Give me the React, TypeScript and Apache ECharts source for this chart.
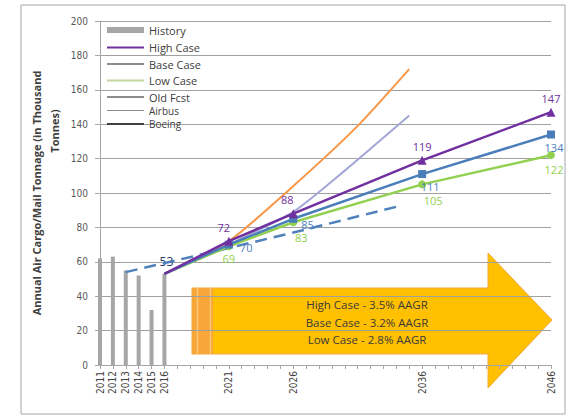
import React, { useEffect, useRef } from "react";
import * as echarts from "echarts";

const years = [
  "2011", "2012", "2013", "2014", "2015", "2016", "2017", "2018", "2019", "2020",
  "2021", "2022", "2023", "2024", "2025", "2026", "2027", "2028", "2029", "2030",
  "2031", "2032", "2033", "2034", "2035", "2036", "2037", "2038", "2039", "2040",
  "2041", "2042", "2043", "2044", "2045", "2046",
];
const labelledYears = ["2011", "2012", "2013", "2014", "2015", "2016", "2021", "2026", "2036", "2046"];

const historyYears = ["2011", "2012", "2013", "2014", "2015", "2016"];
const historyValues = [62, 63, 55, 52, 32, 53];

const forecastYears = ["2016", "2021", "2026", "2036", "2046"];
const highCase = [53, 72, 88, 119, 147];
const baseCase = [53, 70, 85, 111, 134];
const lowCase = [53, 69, 83, 105, 122];

const oldFcstYears = ["2016", "2021", "2026", "2030", "2035"];
const oldFcst = [53, 70, 89, 113, 145];

const airbusYears = ["2016", "2021", "2026", "2031", "2035"];
const airbus = [53, 72, 104, 139, 172];

const boeingYears = ["2013", "2021", "2026", "2034"];
const boeing = [54, 68, 77, 92];

const growthNotes = ["High Case - 3.5% AAGR", "Base Case - 3.2% AAGR", "Low Case - 2.8% AAGR"];

const FONT = "'Open Sans', 'Noto Sans', sans-serif";
const NARROW = "'Liberation Sans Narrow', 'DejaVu Sans Condensed', 'Open Sans', sans-serif";

function spread(ys: string[], vs: number[]): (number | null)[] {
  const out: (number | null)[] = years.map(() => null);
  ys.forEach((y, i) => {
    out[years.indexOf(y)] = vs[i];
  });
  return out;
}

function forecastData(vs: number[], labelCfgs: any[]) {
  const out: any[] = years.map(() => null);
  forecastYears.forEach((y, i) => {
    const item: any = { value: vs[i] };
    if (i === 0) {
      item.symbol = "none";
      item.label = { show: false };
    } else if (labelCfgs[i]) {
      item.label = labelCfgs[i];
    }
    out[years.indexOf(y)] = item;
  });
  return out;
}

export default function App() {
  const ref = useRef<HTMLDivElement>(null);

  useEffect(() => {
    if (!ref.current) return;
    const chart = echarts.init(ref.current, undefined, { renderer: "svg" });

    const histData: any[] = spread(historyYears, historyValues).map((v, i) =>
      years[i] === "2016"
        ? {
            value: v,
            label: {
              show: true,
              position: "top",
              distance: 6,
              offset: [2, 0],
              color: "#1F3864",
              fontSize: 12,
              fontFamily: FONT,
              formatter: "{c}",
            },
          }
        : v
    );

    const purple = "#7030A0";
    const blue = "#4A7EBB";
    const green = "#92D050";

    const highLabels = [
      null,
      { position: "top", offset: [-5, 0] },
      { position: "top", offset: [-6, 0] },
      { position: "top" },
      { position: "top" },
    ];
    const baseLabels = [
      null,
      { position: "right", offset: [4, 3] },
      { position: "right", offset: [1, 6] },
      { position: "bottom", offset: [8, 0] },
      { position: "bottom", offset: [3, 0] },
    ];
    const lowLabels = [
      null,
      { position: "bottom", offset: [0, 0] },
      { position: "bottom", offset: [8, 3] },
      { position: "bottom", offset: [11, 4] },
      { position: "bottom", offset: [3, 2] },
    ];

    const legendText = { fontSize: 11, lineHeight: 13, color: "#404040", fontFamily: FONT };

    chart.setOption({
      animation: false,
      backgroundColor: "#ffffff",
      textStyle: { fontFamily: FONT },
      grid: { left: 100, right: 17, top: 21, height: 344, containLabel: false },
      legend: [
        {
          data: [{ name: "History", icon: "rect", itemStyle: { color: "#A6A6A6" } }],
          orient: "vertical",
          left: 107,
          top: 23.5,
          padding: 0,
          itemWidth: 37,
          itemHeight: 6,
          selectedMode: false,
          textStyle: legendText,
        },
        {
          data: [
            { name: "High Case", icon: "rect", itemStyle: { color: purple } },
            { name: "Base Case", icon: "rect", itemStyle: { color: "#8C8C8C" } },
            { name: "Low Case", icon: "rect", itemStyle: { color: "#C3D69B" } },
            { name: "Old Fcst", icon: "rect", itemStyle: { color: "#8C8C8C" } },
          ],
          orient: "vertical",
          left: 107,
          top: 41,
          padding: 0,
          itemWidth: 37,
          itemHeight: 2,
          itemGap: 3.5,
          selectedMode: false,
          textStyle: legendText,
        },
        {
          data: [{ name: "Airbus", icon: "rect", itemStyle: { color: "#8C8C8C" } }],
          orient: "vertical",
          left: 107,
          top: 105,
          padding: 0,
          itemWidth: 37,
          itemHeight: 1,
          selectedMode: false,
          textStyle: { ...legendText, fontSize: 10, lineHeight: 11 },
        },
        {
          data: [{ name: "Boeing", icon: "rect", itemStyle: { color: "#404040" } }],
          orient: "vertical",
          left: 107,
          top: 118,
          padding: 0,
          itemWidth: 37,
          itemHeight: 2,
          selectedMode: false,
          textStyle: { ...legendText, fontSize: 10, lineHeight: 12 },
        },
      ],
      xAxis: {
        type: "category",
        data: years,
        boundaryGap: false,
        axisLine: { lineStyle: { color: "#A6A6A6" } },
        axisTick: { interval: 0, length: 4, lineStyle: { color: "#A6A6A6" } },
        axisLabel: {
          interval: (_i: number, v: string) => labelledYears.includes(v),
          rotate: 90,
          fontSize: 10,
          color: "#404040",
          margin: 6,
          fontFamily: NARROW,
        },
        splitLine: { show: false },
      },
      yAxis: {
        type: "value",
        min: 0,
        max: 200,
        interval: 20,
        name: "Annual Air Cargo/Mail Tonnage (in Thousand",
        nameLocation: "middle",
        nameGap: 58,
        nameTextStyle: { fontSize: 11, fontWeight: "bold", color: "#404040", fontFamily: FONT },
        axisLine: { show: true, lineStyle: { color: "#A6A6A6" } },
        axisTick: { show: true, length: 5, lineStyle: { color: "#A6A6A6" } },
        axisLabel: { fontSize: 10, color: "#595959", margin: 12, fontFamily: NARROW },
        splitLine: { lineStyle: { color: "#A0A0A0", width: 1 } },
      },
      series: [
        {
          name: "History",
          type: "bar",
          data: histData,
          barWidth: 4,
          itemStyle: { color: "#A6A6A6" },
          z: 2,
        },
        {
          name: "Airbus",
          type: "line",
          data: spread(airbusYears, airbus),
          connectNulls: true,
          symbol: "none",
          smooth: 0.2,
          lineStyle: { color: "#F79646", width: 2 },
          itemStyle: { color: "#F79646" },
          z: 3,
        },
        {
          name: "Old Fcst",
          type: "line",
          data: spread(oldFcstYears, oldFcst),
          connectNulls: true,
          symbol: "none",
          smooth: 0.2,
          lineStyle: { color: "#A3A6D6", width: 2 },
          itemStyle: { color: "#A3A6D6" },
          z: 3,
        },
        {
          name: "Boeing",
          type: "line",
          data: spread(boeingYears, boeing),
          connectNulls: true,
          symbol: "none",
          lineStyle: { color: "#4F81BD", width: 2.5, type: [12, 7] },
          itemStyle: { color: "#4F81BD" },
          z: 3,
        },
        {
          name: "Low Case",
          type: "line",
          data: forecastData(lowCase, lowLabels),
          connectNulls: true,
          symbol: "circle",
          symbolSize: 8,
          showAllSymbol: true,
          lineStyle: { color: green, width: 2.5 },
          itemStyle: { color: green },
          label: { show: true, color: green, fontSize: 11, fontFamily: FONT, distance: 3 },
          z: 4,
        },
        {
          name: "Base Case",
          type: "line",
          data: forecastData(baseCase, baseLabels),
          connectNulls: true,
          symbol: "rect",
          symbolSize: 8,
          showAllSymbol: true,
          lineStyle: { color: blue, width: 2.5 },
          itemStyle: { color: blue },
          label: { show: true, color: blue, fontSize: 11, fontFamily: FONT, distance: 3 },
          z: 5,
        },
        {
          name: "High Case",
          type: "line",
          data: forecastData(highCase, highLabels),
          connectNulls: true,
          symbol: "triangle",
          symbolSize: 9,
          showAllSymbol: true,
          lineStyle: { color: purple, width: 2.5 },
          itemStyle: { color: purple },
          label: { show: true, color: purple, fontSize: 11, fontFamily: FONT, distance: 4 },
          z: 6,
        },
      ],
      graphic: [
        {
          type: "rect",
          shape: { x: 21, y: 5, width: 544, height: 409 },
          style: { fill: "none", stroke: "#A6A6A6", lineWidth: 1 },
          silent: true,
          z: 1,
        },
        {
          type: "text",
          x: 54,
          y: 131,
          rotation: Math.PI / 2,
          style: {
            text: "Tonnes)",
            fontSize: 11,
            fontWeight: "bold",
            fill: "#404040",
            fontFamily: FONT,
            align: "center",
            verticalAlign: "middle",
          },
          silent: true,
        },
        {
          type: "group",
          silent: true,
          z: 10,
          children: [
            {
              type: "polygon",
              shape: {
                points: [
                  [192, 288],
                  [488, 288],
                  [488, 253],
                  [552, 320],
                  [488, 388],
                  [488, 354],
                  [192, 354],
                ],
              },
              style: { fill: "#FFC000", stroke: "#F2A93B", lineWidth: 1 },
            },
            {
              type: "rect",
              shape: { x: 192, y: 288, width: 21, height: 66 },
              style: { fill: "#F8A53A" },
            },
            {
              type: "line",
              shape: { x1: 197.5, y1: 288, x2: 197.5, y2: 354 },
              style: { stroke: "#FCC878", lineWidth: 1.5 },
            },
            {
              type: "line",
              shape: { x1: 210.5, y1: 288, x2: 210.5, y2: 354 },
              style: { stroke: "#FCC878", lineWidth: 1.5 },
            },
            {
              type: "text",
              x: 367,
              y: 322,
              style: {
                text: growthNotes.join("\n"),
                fontSize: 11.5,
                lineHeight: 17.5,
                fill: "#3A3A3A",
                fontFamily: FONT,
                align: "center",
                verticalAlign: "middle",
              },
            },
          ],
        },
      ],
    });

    return () => chart.dispose();
  }, []);

  return (
    <div
      ref={ref}
      style={{ position: "fixed", left: 0, top: 0, width: 568, height: 418, background: "#fff" }}
    />
  );
}
